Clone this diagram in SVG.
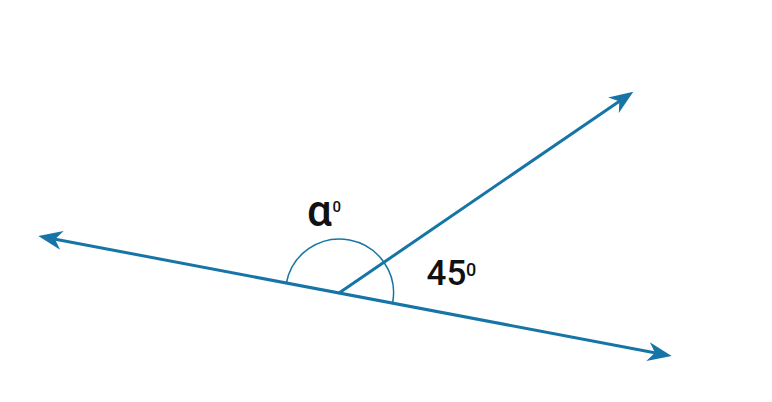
<svg xmlns="http://www.w3.org/2000/svg" width="772" height="402" viewBox="0 0 772 402">
  <style>
    .ray { stroke: #1675a6; stroke-width: 3; fill: none; }
    .arc { stroke: #1675a6; stroke-width: 1.5; fill: none; }
    .lbl { font-family: Roboto, "Liberation Sans", sans-serif; font-weight: 500; fill: #111; }
  </style>
  <defs>
    <marker id="arrow" viewBox="-13 -11 28 22" refX="0" refY="0" markerWidth="28" markerHeight="22" markerUnits="userSpaceOnUse" orient="auto-start-reverse">
      <path d="M12,0 L-12,-9.5 L-5,0 L-12,9.5 Z" fill="#1675a6"/>
    </marker>
  </defs>
  <rect width="772" height="402" fill="#fff"/>
  <g id="connectors">
    <path id="line" class="ray" d="M50.1,238.2 L659.9,353.8" marker-start="url(#arrow)" marker-end="url(#arrow)"/>
    <path id="ray" class="ray" d="M339,293 L623.4,98.5" marker-end="url(#arrow)"/>
    <path id="angle-arc" class="arc" d="M286.4,283 A54,54 0 0 1 392.6,303"/>
  </g>
  <g id="label-alpha">
    <text class="lbl" x="307" y="226" font-size="44">α<tspan x="332.5" y="211.5" font-size="15">0</tspan></text>
  </g>
  <g id="label-45">
    <text class="lbl" x="426.5" y="285" font-size="35">45<tspan x="466" y="275.5" font-size="18">0</tspan></text>
  </g>
</svg>
